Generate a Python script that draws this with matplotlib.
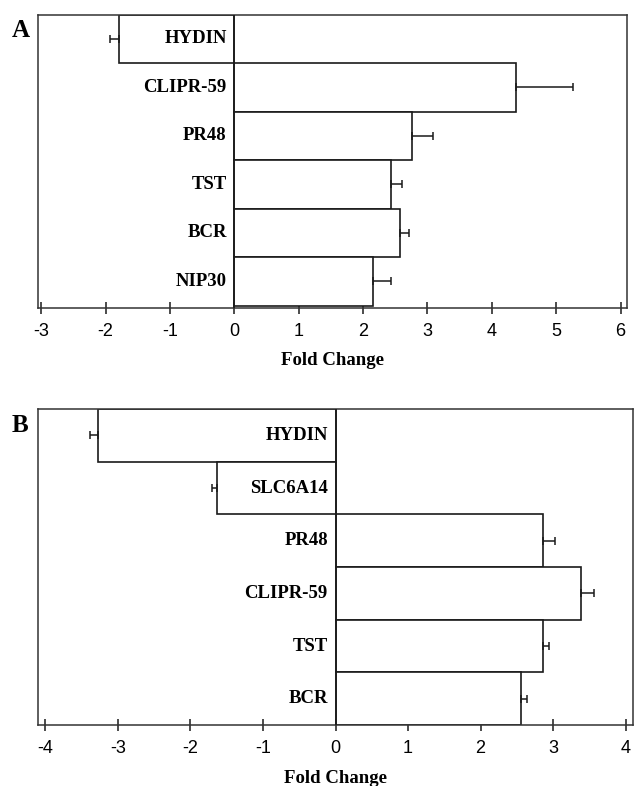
import numpy as np
import matplotlib.pyplot as plt

# Panel A data (top to bottom)
genes_a = ['HYDIN', 'CLIPR-59', 'PR48', 'TST', 'BCR', 'NIP30']
fold_a = [-1.79, 4.37, 2.76, 2.44, 2.57, 2.15]
err_a = [0.14, 0.89, 0.33, 0.17, 0.15, 0.29]
ticks_a = [-3, -2, -1, 0, 1, 2, 3, 4, 5, 6]

# Panel B data (top to bottom)
genes_b = ['HYDIN', 'SLC6A14', 'PR48', 'CLIPR-59', 'TST', 'BCR']
fold_b = [-3.28, -1.64, 2.86, 3.38, 2.86, 2.55]
err_b = [0.11, 0.06, 0.16, 0.18, 0.08, 0.09]
ticks_b = [-4, -3, -2, -1, 0, 1, 2, 3, 4]

serif = 'Liberation Serif'
sans = 'Liberation Sans'
edge = '#1a1a1a'


def draw_panel(ax, genes, fold, err, ticks, xlim, ylim, letter, xlpad):
    y = np.arange(len(genes))
    ax.barh(y, fold, height=1.0, color='white', edgecolor=edge, linewidth=1.2, zorder=2)
    fold = np.array(fold)
    err = np.array(err)
    lo = np.where(fold < 0, err, 0)
    hi = np.where(fold > 0, err, 0)
    ax.errorbar(fold, y, xerr=[lo, hi], fmt='none', ecolor=edge, elinewidth=1.1,
                capsize=3, capthick=1.1, zorder=3)
    ax.axvline(0, color=edge, lw=1.2, zorder=4)
    for yi, g in zip(y, genes):
        ax.annotate(g, (0, yi), xytext=(-5.5, 0), textcoords='offset points',
                    ha='right', va='center', fontfamily=serif, fontweight='bold',
                    fontsize=13.5, zorder=5)
    ax.set_xlim(*xlim)
    ax.set_ylim(*ylim)
    ax.set_yticks([])
    ax.set_xticks(ticks)
    ax.set_xticklabels([str(t) for t in ticks], fontfamily=sans, fontsize=13)
    ax.tick_params(axis='x', direction='inout', length=9, width=1.1, pad=6, colors=edge,
                   labelcolor='black')
    for s in ax.spines.values():
        s.set_color('#333333')
        s.set_linewidth(1.1)
    ax.set_xlabel('Fold Change', fontfamily=serif, fontweight='bold', fontsize=13.5,
                  labelpad=xlpad)
    ax.text(-0.045, 0.985, letter, transform=ax.transAxes, fontfamily=serif,
            fontweight='bold', fontsize=18, ha='left', va='top')


fig = plt.figure(figsize=(6.37, 7.86), dpi=100)
ax_a = fig.add_axes([0.0597, 0.6081, 0.9247, 0.3732])
ax_b = fig.add_axes([0.0597, 0.0776, 0.934, 0.402])

draw_panel(ax_a, genes_a, fold_a, err_a, ticks_a, (-3.05, 6.1), (5.55, -0.5), 'A', 9)
draw_panel(ax_b, genes_b, fold_b, err_b, ticks_b, (-4.1, 4.1), (5.5, -0.5), 'B', 10)

fig.savefig('out.png', dpi=100)
